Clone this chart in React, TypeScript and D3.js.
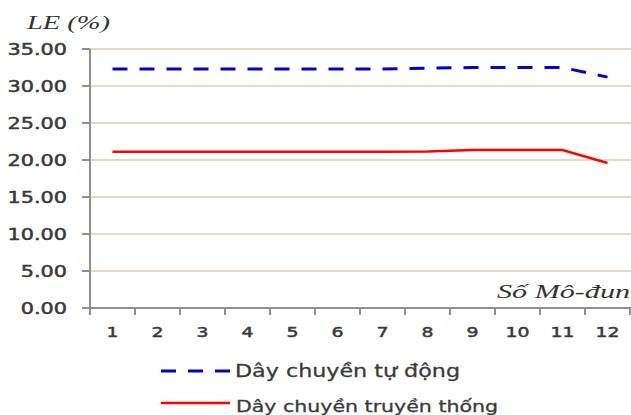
import React from 'react';
import * as d3 from 'd3';

const modules = ['1', '2', '3', '4', '5', '6', '7', '8', '9', '10', '11', '12'];
const autoLine = [32.3, 32.3, 32.3, 32.3, 32.3, 32.3, 32.3, 32.4, 32.5, 32.5, 32.5, 31.2];
const tradLine = [21.1, 21.1, 21.1, 21.1, 21.1, 21.1, 21.1, 21.15, 21.35, 21.35, 21.35, 19.6];
const yTicks = [0, 5, 10, 15, 20, 25, 30, 35];
const seriesNames = ['Dây chuyền tự động', 'Dây chuyền truyền thống'];

const W = 631;
const H = 415;
const textColor = '#3a3a3a';
const gridColor = '#d5cfb6';
const axisColor = '#8f8f8f';

const App: React.FC = () => {
  const x = d3.scaleBand<string>().domain(modules).range([90, 630]);
  const y = d3.scaleLinear().domain([0, 35]).range([308, 49]);

  const line = d3
    .line<number>()
    .x((_, i) => (x(modules[i]) as number) + x.bandwidth() / 2)
    .y(d => y(d));

  // tick boundaries of the category axis
  const boundaries = modules.map(m => x(m) as number).concat([x.range()[1]]);

  return (
    <svg width={W} height={H} style={{ position: 'absolute', left: 0, top: 0, background: '#fff' }}>
      {/* gridlines */}
      {yTicks.filter(t => t > 0).map(t => (
        <line key={t} x1={90} x2={W} y1={y(t)} y2={y(t)} stroke={gridColor} strokeWidth={1.5} />
      ))}

      {/* y axis */}
      <line x1={90} x2={90} y1={y(35)} y2={y(0) + 7} stroke={axisColor} strokeWidth={2} />
      {yTicks.map(t => (
        <g key={t}>
          <line x1={82} x2={90} y1={y(t)} y2={y(t)} stroke={axisColor} strokeWidth={2} />
          <text
            transform={`translate(67,${y(t) + 6}) scale(1.3,1)`}
            textAnchor="end"
            fontFamily="DejaVu Sans, Verdana, sans-serif"
            fontSize={16}
            fill={textColor}
            stroke={textColor}
            strokeWidth={0.5}
          >
            {t.toFixed(2)}
          </text>
        </g>
      ))}

      {/* x axis */}
      <line x1={82} x2={W} y1={y(0)} y2={y(0)} stroke={axisColor} strokeWidth={2} />
      {boundaries.map((b, i) => (
        <line key={i} x1={b} x2={b} y1={y(0)} y2={y(0) + 7} stroke={axisColor} strokeWidth={2} />
      ))}
      {modules.map(m => (
        <text
          key={m}
          transform={`translate(${(x(m) as number) + x.bandwidth() / 2},337) scale(1.3,1)`}
          textAnchor="middle"
          fontFamily="DejaVu Sans, Verdana, sans-serif"
          fontSize={14.5}
          fill={textColor}
          stroke={textColor}
          strokeWidth={0.5}
        >
          {m}
        </text>
      ))}

      {/* axis titles */}
      <text
        x={27}
        y={29}
        fontFamily="Liberation Serif, Times New Roman, serif"
        fontStyle="italic"
        fontSize={19}
        textLength={83}
        lengthAdjust="spacingAndGlyphs"
        fill="#333"
      >
        LE (%)
      </text>
      <text
        x={497}
        y={298}
        fontFamily="Liberation Serif, Times New Roman, serif"
        fontStyle="italic"
        fontSize={19}
        textLength={133}
        lengthAdjust="spacingAndGlyphs"
        fill="#333"
      >
        Số Mô-đun
      </text>

      {/* series */}
      <path d={line(tradLine) || ''} fill="none" stroke="#ff0000" strokeWidth={2.5} />
      <path
        d={line(autoLine) || ''}
        fill="none"
        stroke="#0000c8"
        strokeWidth={3}
        strokeDasharray="15,12"
      />

      {/* legend */}
      <line x1={161} x2={230} y1={371} y2={371} stroke="#0000c8" strokeWidth={3} strokeDasharray="15,12" />
      <text
        x={235}
        y={377}
        fontFamily="DejaVu Sans, Verdana, sans-serif"
        fontSize={18}
        textLength={225}
        lengthAdjust="spacingAndGlyphs"
        fill={textColor}
        stroke={textColor}
        strokeWidth={0.3}
      >
        {seriesNames[0]}
      </text>
      <line x1={161} x2={230} y1={403} y2={403} stroke="#ff0000" strokeWidth={2.5} />
      <text
        x={236}
        y={412}
        fontFamily="DejaVu Sans, Verdana, sans-serif"
        fontSize={16}
        textLength={262}
        lengthAdjust="spacingAndGlyphs"
        fill={textColor}
        stroke={textColor}
        strokeWidth={0.3}
      >
        {seriesNames[1]}
      </text>
    </svg>
  );
};

export default App;
